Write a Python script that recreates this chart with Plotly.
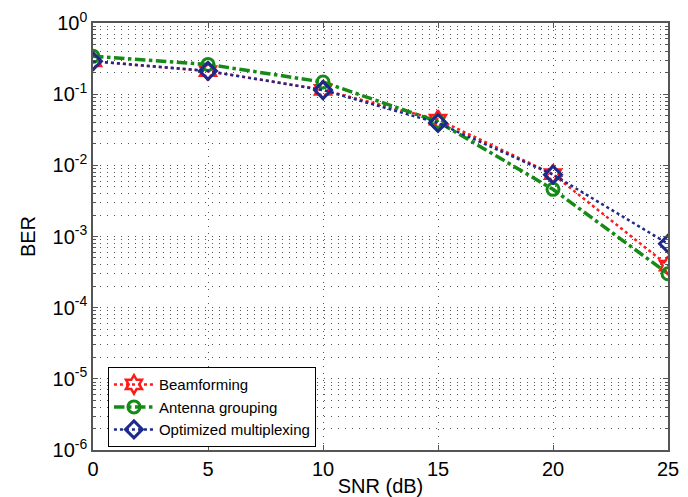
import plotly.graph_objects as go

snr = [0, 5, 10, 15, 20, 25]
beamforming = [0.29, 0.21, 0.115, 0.044, 0.0075, 0.00039]
antenna_grouping = [0.34, 0.262, 0.148, 0.041, 0.0046, 0.0003]
optimized_mux = [0.29, 0.212, 0.114, 0.0394, 0.0074, 0.00079]

ytick_vals = [1, 1e-1, 1e-2, 1e-3, 1e-4, 1e-5, 1e-6]
ytick_text = ["10<sup>0</sup>", "10<sup>-1</sup>", "10<sup>-2</sup>", "10<sup>-3</sup>",
              "10<sup>-4</sup>", "10<sup>-5</sup>", "10<sup>-6</sup>"]
# minor (2..9 per decade) grid positions
minor_vals = [m * d for d in [1e-6, 1e-5, 1e-4, 1e-3, 1e-2, 1e-1] for m in range(2, 10)]

RED = "#ff1a1a"
GREEN = "#168a16"
BLUE = "#1c2a8c"
GRID = "#555555"
DOTS = "1px,6px"

fig = go.Figure()
fig.add_trace(go.Scatter(
    x=snr, y=beamforming, name="Beamforming", mode="lines+markers",
    line=dict(color=RED, width=2.5, dash="dot"),
    marker=dict(symbol="hexagram-open", size=14, color=RED, line=dict(width=2.5, color=RED)),
))
fig.add_trace(go.Scatter(
    x=snr, y=antenna_grouping, name="Antenna grouping", mode="lines+markers",
    line=dict(color=GREEN, width=3.5, dash="dashdot"),
    marker=dict(symbol="circle-open", size=12, color=GREEN, line=dict(width=3, color=GREEN)),
))
fig.add_trace(go.Scatter(
    x=snr, y=optimized_mux, name="Optimized multiplexing", mode="lines+markers",
    line=dict(color=BLUE, width=2.5, dash="dot"),
    marker=dict(symbol="diamond-open", size=13, color=BLUE, line=dict(width=3, color=BLUE)),
))

FONT = "Liberation Sans, Arial, sans-serif"
axis_common = dict(
    showline=True, linecolor="#555555", linewidth=1.5, mirror="ticks",
    ticks="inside", ticklen=5, tickcolor="#555555",
    showgrid=True, gridcolor=GRID, griddash=DOTS, gridwidth=1,
    zeroline=False,
    tickfont=dict(family=FONT, size=20, color="black"),
    title_font=dict(family=FONT, size=20, color="black"),
)

fig.update_xaxes(range=[0, 25], dtick=5, tick0=0, title_text="SNR (dB)", title_standoff=0,
                 automargin="bottom", **axis_common)
fig.update_yaxes(type="log", range=[-6, 0], tickmode="array", tickvals=ytick_vals, ticktext=ytick_text,
                 title_text="BER", title_standoff=12, automargin="left",
                 minor=dict(tickmode="array", tickvals=minor_vals,
                            showgrid=True, gridcolor=GRID, griddash=DOTS, gridwidth=1,
                            ticks="inside", ticklen=3, tickcolor="#555555"),
                 **axis_common)

fig.update_layout(
    width=688, height=497,
    margin=dict(l=85, r=28, t=15, b=55),
    paper_bgcolor="white", plot_bgcolor="white",
    font=dict(family=FONT, color="black"),
    showlegend=True,
    legend=dict(x=0.026, y=0.194, xanchor="left", yanchor="top",
                bgcolor="white", bordercolor="black", borderwidth=1,
                font=dict(family=FONT, size=15, color="black"), tracegroupgap=0,
                itemwidth=40),
)

fig.write_html("out.html")
